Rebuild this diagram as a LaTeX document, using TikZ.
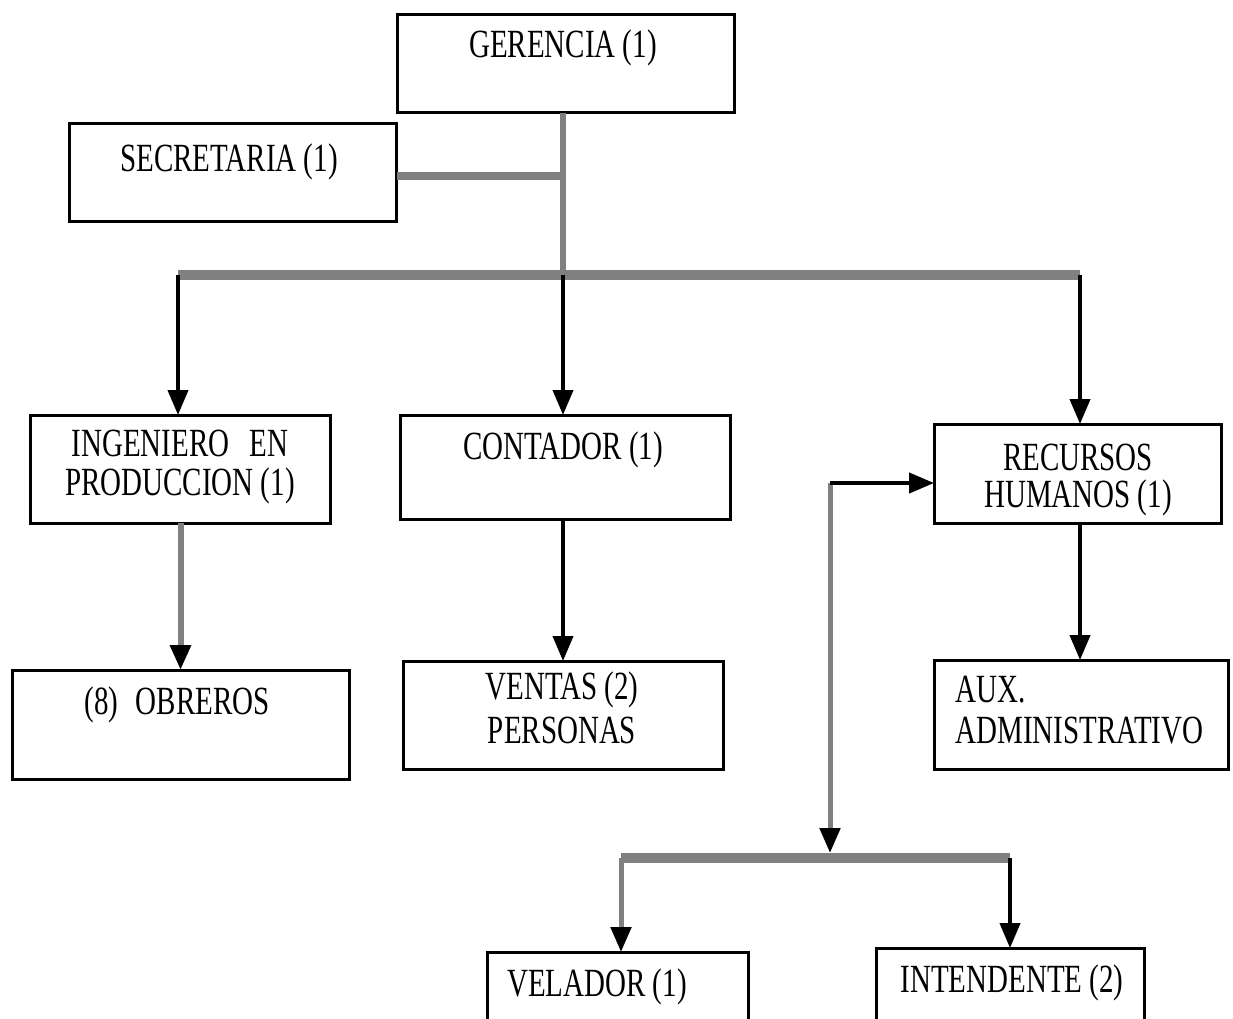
\documentclass[tikz,border=0pt]{standalone}
\usepackage{fontspec}
\setmainfont{Liberation Serif}
\usepackage{graphicx}
\usetikzlibrary{arrows.meta}
\newcommand{\tall}[1]{\scalebox{1}[1.38]{#1}}

\begin{document}
\begin{tikzpicture}[x=0.02cm, y=-0.02cm,
    box/.style={draw, line width=0.06cm, inner sep=0pt, outer sep=0pt},
    lbl/.style={inner sep=0pt, font=\fontsize{16.5}{18}\selectfont},
    bus/.style={gray, line width=0.2cm},
    feed/.style={gray, line width=0.12cm},
    tip/.style={-{Triangle[width=0.4cm, length=0.5cm, color=black]}},
    drop/.style={tip, line width=0.08cm}]
  \clip (0,0) rectangle (1233,1018);
  \fill[white] (0,0) rectangle (1233,1018);
  % boxes
  \node[box, minimum width=6.76cm, minimum height=1.98cm] (ger) at (566,63.5) {};
  \node[box, minimum width=6.56cm, minimum height=1.98cm] (sec) at (233,172.5) {};
  \node[box, minimum width=6.02cm, minimum height=2.16cm] (ing) at (180.5,469) {};
  \node[box, minimum width=6.62cm, minimum height=2.08cm] (cont) at (565.5,467) {};
  \node[box, minimum width=5.76cm, minimum height=1.98cm] (rh) at (1078,473.5) {};
  \node[box, minimum width=6.76cm, minimum height=2.18cm] (obr) at (181,724.5) {};
  \node[box, minimum width=6.42cm, minimum height=2.16cm] (vent) at (563.5,715) {};
  \node[box, minimum width=5.90cm, minimum height=2.18cm] (aux) at (1081.5,714.5) {};
  \node[box, minimum width=5.24cm, minimum height=1.76cm] (vel) at (618,996) {};
  \node[box, minimum width=5.38cm, minimum height=1.84cm] (int) at (1010.5,994) {};
  % labels
  \node[lbl] (gerT) at (563,48) {\tall{GERENCIA (1)}};
  \node[lbl] (secT) at (229,162) {\tall{SECRETARIA (1)}};
  \node[lbl] (ingA) at (180,443) {\tall{\makebox[4.34cm][s]{INGENIERO EN}}};
  \node[lbl] (ingB) at (180,486) {\tall{PRODUCCION (1)}};
  \node[lbl] (contT) at (563,450) {\tall{CONTADOR (1)}};
  \node[lbl] (rhA) at (1078,457) {\tall{RECURSOS}};
  \node[lbl] (rhB) at (1078,498) {\tall{HUMANOS (1)}};
  \node[lbl] (obrT) at (177,705) {\tall{(8)\hspace{0.6em}OBREROS}};
  \node[lbl] (ventA) at (562,690) {\tall{VENTAS (2)}};
  \node[lbl] (ventB) at (562,730) {\tall{PERSONAS}};
  \node[lbl, anchor=west] (auxA) at (955,690) {\tall{AUX.}};
  \node[lbl, anchor=west] (auxB) at (955,731) {\tall{ADMINISTRATIVO}};
  \node[lbl] (velT) at (597,987) {\tall{VELADOR (1)}};
  \node[lbl] (intT) at (1012,983) {\tall{INTENDENTE (2)}};
  % connectors
  \coordinate (topbus) at (563,275);
  \coordinate (busL) at (178,275);
  \coordinate (busR) at (1080,275);
  \coordinate (secjoin) at (563,176);
  \coordinate (rhin) at (830,483);
  \coordinate (lowbus) at (830,858);
  \coordinate (lowL) at (621,858);
  \coordinate (lowR) at (1010,858);
  \draw[feed] (topbus |- ger.south) -- (topbus);
  \draw[gray, line width=0.15cm] (secjoin -| sec.east) -- (secjoin);
  \draw[bus] (busL) -- (busR);
  \draw[drop] (busL) -- (busL |- ing.north);
  \draw[drop] (topbus) -- (topbus |- cont.north);
  \draw[drop] (busR) -- (busR |- rh.north);
  \draw[feed, tip] (ing.south) -- (ing.south |- obr.north);
  \draw[drop] (topbus |- cont.south) -- (topbus |- vent.north);
  \draw[drop] (busR |- rh.south) -- (busR |- aux.north);
  \draw[bus] (lowL) -- (lowR);
  \draw[feed, line width=0.1cm, tip, shorten >=0.1cm] (rhin) -- (lowbus);
  \draw[drop] (rhin) -- (rhin -| rh.west);
  \draw[feed, line width=0.1cm, tip] (lowL) -- (lowL |- vel.north);
  \draw[drop] (lowR) -- (lowR |- int.north);
\end{tikzpicture}
\end{document}
